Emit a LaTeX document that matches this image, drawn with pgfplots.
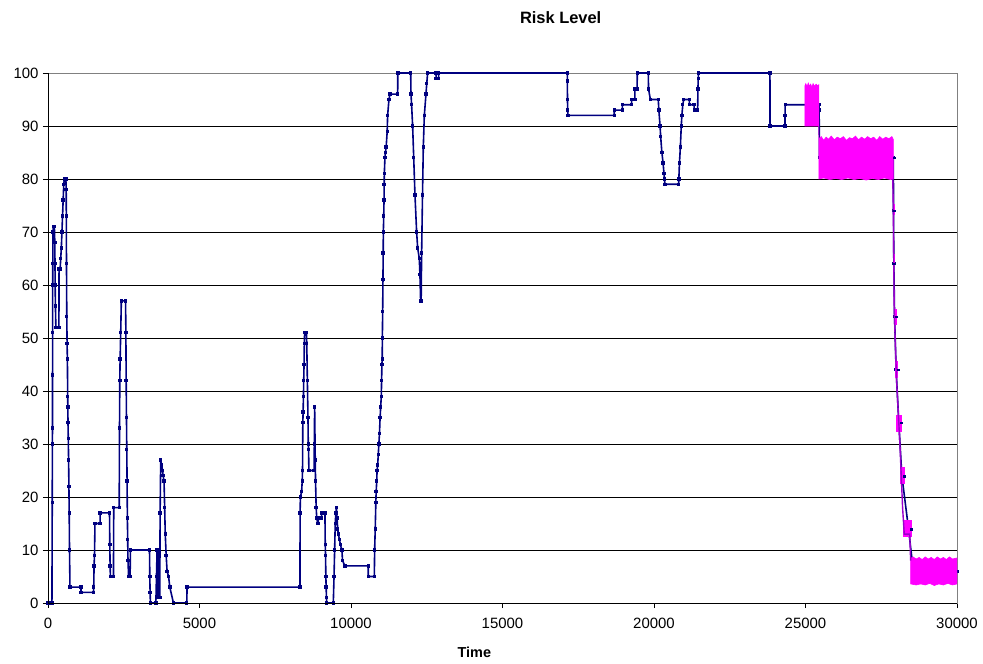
\documentclass[border=0pt]{standalone}
\usepackage{fontspec}
\setmainfont{Liberation Sans}
\usepackage{pgfplots}
\pgfplotsset{compat=1.18}
\definecolor{navyline}{RGB}{0,0,128}
\definecolor{mag}{RGB}{255,0,255}
\begin{document}
\begin{tikzpicture}
\useasboundingbox (-48bp,-61bp) rectangle (935bp,603bp);
\begin{axis}[
  scale only axis, width=909bp, height=530bp,
  xmin=0, xmax=30000, ymin=0, ymax=100,
  clip mode=individual,
  xtick={0,5000,10000,15000,20000,25000,30000},
  ytick={0,10,20,30,40,50,60,70,80,90,100},
  scaled x ticks=false,
  /pgf/number format/1000 sep={},
  /pgf/number format/assume math mode=true,
  ymajorgrids, grid style={black, line width=0.6bp},
  axis line style={gray, line width=0.8bp},
  tick style={black, line width=0.7bp},
  tick align=outside, major tick length=5bp,
  xtick pos=bottom, ytick pos=left,
  ticklabel style={font=\fontsize{15}{17}\selectfont},
  xticklabel style={yshift=-7bp},
  yticklabel style={xshift=-1bp},
]
% navy series
\addplot[navyline, line width=1.6bp, mark=square*, mark size=0.9bp, mark options={navyline}] coordinates {
(0,0)(130,0)(140,19)(145,30)(148,33)(150,43)(152,51)(155,60)(158,64)(165,70)(175,71)(210,71)(225,68)(231,64)(236,60)(245,56)(260,52)(360,52)(365,63)(400,63)(420,65)(440,67)(460,70)(480,73)(500,76)(520,79)(540,80)(590,80)(600,78)(605,73)(610,64)(620,54)(630,49)(640,46)(650,39)(655,37)(660,34)(670,31)(680,27)(690,22)(700,17)(710,10)(725,3)(1090,3)(1090,2)(1500,2)(1510,3)(1520,7)(1535,9)(1550,15)(1720,15)(1720,17)(2030,17)(2040,11)(2050,7)(2060,5)(2160,5)(2170,18)(2350,18)(2360,33)(2370,42)(2380,46)(2400,51)(2420,57)(2560,57)(2570,51)(2580,42)(2590,35)(2600,29)(2610,23)(2620,16)(2630,12)(2640,8)(2660,5)(2710,5)(2720,10)(3350,10)(3360,5)(3370,2)(3380,0)(3560,0)(3580,5)(3600,10)(3610,3)(3620,1)(3640,10)(3660,1)(3690,1)(3700,17)(3720,27)(3750,26)(3780,25)(3800,24)(3830,23)(3850,18)(3870,13)(3900,9)(3930,6)(3980,5)(4020,3)(4140,0)(4580,0)(4590,3)
(8316,3)(8320,17)(8330,20)(8370,21)(8390,23)(8400,25)(8410,34)(8420,36)(8430,39)(8440,42)(8450,45)(8460,49)(8470,51)(8530,51)(8540,49)(8560,42)(8580,35)(8590,30)(8600,29)(8610,25)(8780,25)(8790,30)(8800,37)(8820,27)(8830,23)(8850,18)(8870,16)(8900,15)(8920,15)(8920,16)(9030,16)(9030,17)(9140,17)(9150,11)(9160,9)(9170,5)(9180,3)(9190,1)(9200,0)(9416,0)(9440,5)(9460,10)(9480,15)(9500,17)(9520,18)(9540,16)(9560,14)(9580,13)(9620,12)(9650,11)(9700,10)(9720,8)(9800,7)(10570,7)(10570,5)(10770,5)(10780,10)(10800,14)(10820,19)(10830,21)(10850,23)(10860,25)(10880,26)(10900,28)(10920,30)(10940,32)(10960,35)(10980,37)(11000,39)(11010,42)(11020,45)(11030,46)(11035,50)(11045,55)(11055,61)(11062,66)(11068,70)(11080,73)(11090,76)(11095,79)(11100,81)(11120,84)(11135,85)(11160,86)(11195,89)(11209,92)(11253,95)(11286,96)(11540,96)(11545,100)(11970,100)(11980,96)(12000,94)(12034,90)(12070,84)(12111,77)(12166,70)(12200,67)(12254,65)(12275,62)(12298,57)(12315,57)(12331,66)(12360,77)(12386,86)(12420,92)(12474,96)(12500,98)(12529,100)(12804,100)(12810,99)(12890,99)(12895,100)
(17138,100)(17140,98.5)(17145,95)(17150,93)(17160,92)(18689,92)(18690,93)(18953,93)(18955,94)(19261,94)(19263,95)(19370,95)(19370,97)(19440,97)(19450,100)(19811,100)(19820,97)(19880,95)(20141,95)(20160,93)(20200,90)(20220,88)(20260,85)(20300,83)(20330,81)(20345,80)(20361,79)(20812,79)(20820,80)(20840,83)(20870,86)(20900,90)(20920,92)(20950,94)(20980,95)(21164,95)(21170,94)(21320,94)(21330,93)(21440,93)(21450,97)(21460,99)(21470,100)(23826,100)(23830,90)(24321,90)(24325,92)(24330,94)(25443,94)(25450,93)(25460,84)(27900,84)(27905,74)(27915,64)(27940,54)(27990,44)(28080,34)(28180,24)(28400,14)(28560,6)(30000,6)
};
% magenta series (dense oscillation drawn as filled bands)
\addplot[mag, line width=0.6bp, fill=mag] coordinates {
(24981,90)(24981,97.6)(25010,98)(25050,97.4)(25090,98.1)(25130,97.5)(25170,97.9)(25210,97.3)(25250,98)(25300,97.5)(25350,97.9)(25400,97.6)(25443,97.8)
(25443,87.6)(25520,88)(25600,87.3)(25680,87.9)(25760,87.5)(25850,88.1)(25950,87.4)(26050,87.9)(26150,87.6)(26250,88)(26350,87.3)(26450,87.8)(26550,87.6)(26650,88.1)(26750,87.4)(26850,87.9)(26950,87.5)(27050,88)(27150,87.6)(27250,87.9)(27350,87.3)(27450,88)(27550,87.5)(27650,87.9)(27750,87.6)(27850,88)(27896,87.5)
(27896,80)(27800,79.9)(27600,80.2)(27400,79.9)(27200,80.1)(27000,79.8)(26800,80.1)(26600,79.9)(26400,80.2)(26200,79.9)(26000,80.1)(25800,79.9)(25600,80.2)(25443,80)(25443,90)
} -- cycle;
\addplot[mag, line width=0.6bp, fill=mag] coordinates {(27900,73.3)(27900,75.2)(27930,75.2)(27930,73.3)} -- cycle;
\addplot[mag, line width=0.6bp, fill=mag] coordinates {(27900,63.8)(27900,65.7)(27940,65.7)(27940,63.8)} -- cycle;
\addplot[mag, line width=0.6bp, fill=mag] coordinates {(27918,52.5)(27918,55.5)(27984,55.5)(27984,52.5)} -- cycle;
\addplot[mag, line width=0.6bp, fill=mag] coordinates {(27962,42.5)(27962,45.6)(28028,45.6)(28028,42.5)} -- cycle;
\addplot[mag, line width=0.6bp, fill=mag] coordinates {(27995,32.4)(27995,35.5)(28171,35.5)(28171,32.4)} -- cycle;
\addplot[mag, line width=0.6bp, fill=mag] coordinates {(28116,22.5)(28116,25.6)(28248,25.6)(28248,22.5)} -- cycle;
\addplot[mag, line width=0.6bp, fill=mag] coordinates {(28226,12.6)(28226,15.6)(28479,15.6)(28479,12.6)} -- cycle;
\addplot[mag, line width=0.6bp, fill=mag] coordinates {
(28468,3.6)(28468,8.4)(28550,8.7)(28650,8.3)(28750,8.6)(28850,8.2)(28950,8.7)(29050,8.3)(29150,8.6)(29250,8.2)(29350,8.7)(29450,8.3)(29550,8.6)(29650,8.2)(29750,8.7)(29850,8.3)(30000,8.5)
(30000,3.6)(29850,3.4)(29700,3.7)(29550,3.4)(29400,3.6)(29250,3.3)(29100,3.7)(28950,3.4)(28800,3.6)(28650,3.4)(28468,3.6)} -- cycle;
\addplot[mag!60!navyline, line width=1.4bp] coordinates {
(27880,80)(27896,75)(27929,55)(28006,42)(28116,30)(28204,18)(28259,13)(28440,13)(28470,8)};
\addplot[navyline, only marks, mark=square*, mark size=0.9bp] coordinates {
(27929,84)(27929,74)(27929,64)(28006,54)(28061,44)(28171,34)(28259,24)(28501,14)};
% black left and bottom axis lines
\draw[black, line width=0.8bp] (axis cs:0,100) -- (axis cs:0,0) -- (axis cs:30000,0);
\node[font=\bfseries\fontsize{16.5}{19}\selectfont] at (axis description cs:0.564,1) [yshift=55.8bp] {Risk Level};
\node[font=\bfseries\fontsize{14.5}{17}\selectfont] at (axis description cs:0.469,0) [yshift=-49bp] {Time};
\end{axis}
\end{tikzpicture}
\end{document}
